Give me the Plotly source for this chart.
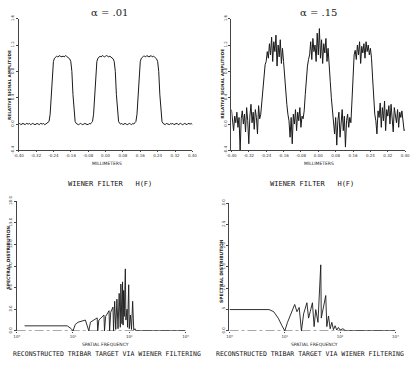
import plotly.graph_objects as go

W, H = 417, 369

# ---------------- data ----------------
mm_ticks = [-0.40, -0.32, -0.24, -0.16, -0.08, 0.00, 0.08, 0.16, 0.24, 0.32, 0.40]
mm_ticktext = ["-0.40", "-0.32", "-0.24", "-0.16", "-0.08", "0.00", "0.08", "0.16", "0.24", "0.32", "0.40"]
amp_ticks = [-0.4, 0.0, 0.4, 0.8, 1.2, 1.6]
amp_ticktext = ["-0.4", "0.0", "0.4", "0.8", "1.2", "1.6"]

# sample positions (millimeters), 0.005 mm spacing
pos_mm = [round(-0.40 + 0.005 * i, 3) for i in range(161)]

# alpha = .01 reconstruction
sig_01 = [
    0.00, 0.01, -0.01, 0.00, 0.01, 0.00, -0.01, 0.01, 0.00, 0.00, 0.01, -0.01, 0.00, 0.01, 0.00,
    -0.01, 0.00, 0.01, 0.00, -0.01, 0.01, 0.00, 0.00, 0.01, -0.01, 0.00, 0.01, 0.02, 0.04,
    0.15, 0.45, 0.80, 0.95, 1.00,
    1.02, 1.03, 1.02, 1.03, 1.04, 1.02, 1.03, 1.03, 1.02, 1.04, 1.03, 1.02, 1.01, 0.99,
    0.95, 0.80, 0.45, 0.15, 0.04, 0.01,
    0.00, -0.01, 0.00, 0.01, 0.00, -0.01, 0.00, 0.01, 0.00, 0.00, -0.01, 0.01, 0.00, 0.02, 0.04,
    0.15, 0.45, 0.80, 0.95, 1.00,
    1.02, 1.03, 1.02, 1.04, 1.03, 1.02, 1.03, 1.04, 1.03, 1.02, 1.03, 1.02, 1.01, 0.99,
    0.95, 0.80, 0.45, 0.15, 0.04, 0.01,
    0.00, 0.01, -0.01, 0.00, 0.01, 0.00, -0.01, 0.00, 0.01, 0.00, -0.01, 0.01, 0.00, 0.02, 0.04,
    0.15, 0.45, 0.80, 0.95, 1.00,
    1.02, 1.03, 1.03, 1.02, 1.04, 1.03, 1.02, 1.03, 1.04, 1.02, 1.03, 1.02, 1.01, 0.99,
    0.95, 0.80, 0.45, 0.15, 0.04, 0.01,
    0.00, -0.01, 0.01, 0.00, 0.00, -0.01, 0.01, 0.00, 0.01, -0.01, 0.00, 0.00, 0.01, -0.01,
    0.00, 0.01, 0.00, -0.01, 0.00, 0.01, 0.00, -0.01, 0.01, 0.00, 0.00, 0.01, -0.01,
]

# alpha = .15 reconstruction (noisy)
sig_15 = [
    0.22, 0.05, -0.10, 0.12, 0.02, 0.18, -0.05, 0.10, -0.42, 0.08, 0.20, 0.00, 0.15, -0.12,
    0.25, 0.05, -0.30, 0.12, 0.30, 0.02, 0.18, -0.08, 0.22, 0.10, -0.15, 0.28, 0.08,
    0.15, 0.35, 0.60, 0.78, 0.90,
    0.95, 1.10, 1.00, 1.22, 1.05, 1.32, 0.95, 1.25, 1.10, 1.35, 0.88, 1.20, 1.02, 1.28, 0.92, 1.15,
    0.95, 0.70, 0.45, 0.30, 0.15, 0.05,
    -0.20, 0.10, -0.30, 0.15, 0.00, 0.22, -0.10, 0.18, 0.05, 0.25, -0.05, 0.12, 0.08,
    0.20, 0.45, 0.70, 0.88, 0.98,
    1.05, 1.25, 0.98, 1.30, 1.10, 1.20, 0.95, 1.38, 1.05, 1.45, 1.00, 1.28, 0.92, 1.22, 1.08,
    1.30, 0.95, 1.15,
    0.95, 0.65, 0.40, 0.20, 0.08,
    -0.15, 0.10, -0.32, 0.05, 0.18, -0.20, 0.08, 0.22, -0.10, 0.12, -0.35, 0.05, 0.15, -0.05,
    0.10, 0.02,
    0.35, 0.80, 1.05,
    1.12, 0.98, 1.20, 1.05, 1.25, 0.92, 1.18, 1.08, 1.22, 1.00, 1.25, 1.10, 1.20, 1.05, 1.15,
    1.00, 0.70, 0.40, 0.15,
    0.05, -0.15, 0.20, 0.10, 0.32, -0.05, 0.25, 0.05, 0.35, -0.10, 0.22, 0.12, 0.28, 0.00,
    0.30, 0.08, -0.12, 0.25, 0.15, 0.02, 0.22, -0.05, 0.18, 0.10, 0.20, 0.05, -0.10, -0.08,
]

# spectral distribution, alpha = .01
freq_01 = [1.38, 7.9, 9.3, 10.0, 11.0, 12.3, 16.6, 19.1, 20.4, 26.9, 27.5, 28.8, 35.5, 36.3,
           38.0, 43.7, 44.7, 46.8, 51.3, 52.5, 55.0, 57.5, 60.3, 63.1, 66.1, 69.2, 70.8, 74.1,
           75.9, 77.6, 79.4, 81.3, 85.1, 87.1, 91.2, 93.3, 97.7, 100.0, 104.7, 109.6, 114.8,
           120.2, 125.9, 131.8, 1000.0]
spec_01 = [0.7, 0.7, 0.3, 0.0, 0.9, 1.2, 1.5, 0.0, 1.2, 1.8, 0.0, 1.5, 2.2, 0.0,
           2.0, 2.8, 0.0, 2.6, 3.3, 0.0, 4.1, 0.2, 4.4, 0.3, 5.2, 0.5, 6.5, 1.0,
           6.8, 0.8, 5.6, 2.0, 8.6, 1.5, 3.0, 0.5, 6.4, 0.3, 2.2, 0.2,
           4.1, 0.1, 0.3, 0.0, 0.0]

# spectral distribution, alpha = .15
freq_15 = [1.0, 5.2, 6.3, 7.6, 8.9, 10.0, 11.2, 13.2, 15.1, 16.6, 18.2, 20.0, 21.9, 25.1,
           26.9, 28.8, 31.6, 33.9, 36.3, 39.8, 42.7, 44.7, 45.7, 50.1, 55.0, 57.5, 61.7,
           66.1, 70.8, 75.9, 81.3, 87.1, 93.3, 100.0, 112.2, 125.9, 1000.0]
spec_15 = [0.5, 0.5, 0.45, 0.3, 0.12, 0.0, 0.2, 0.45, 0.62, 0.45, 0.55, 0.0, 0.4, 0.66,
           0.3, 0.45, 0.66, 0.1, 0.5, 0.2, 0.9, 1.55, 0.3, 0.6, 0.83, 0.1, 0.35,
           0.05, 0.2, 0.03, 0.12, 0.02, 0.08, 0.02, 0.05, 0.0, 0.0]

freq_ticks = [1, 10, 100, 1000]
freq_ticktext = ["10\u2070", "10\u00b9", "10\u00b2", "10\u00b3"]
freq_range = [1, 1000]
spec01_ticks = [0, 3, 6, 9, 12, 15, 18]
spec01_ticktext = ["0.0", "3.0", "6.0", "9.0", "12.0", "15.0", "18.0"]
spec15_ticks = [0, 0.5, 1.0, 1.5, 2.0, 2.5, 3.0]
spec15_ticktext = ["0.0", ".5", "1.0", "1.5", "2.0", "2.5", "3.0"]

# ---------------- figure ----------------
INK = "#1a1a1a"
fig = go.Figure()

fig.add_trace(go.Scatter(x=pos_mm, y=sig_01, mode="lines", line=dict(color=INK, width=1),
                         xaxis="x", yaxis="y", showlegend=False))
fig.add_trace(go.Scatter(x=pos_mm, y=sig_15, mode="lines", line=dict(color=INK, width=1),
                         xaxis="x2", yaxis="y2", showlegend=False))
fig.add_trace(go.Scatter(x=freq_range, y=[0, 0], mode="lines",
                         line=dict(color="#555", width=0.8, dash="dashdot"),
                         xaxis="x3", yaxis="y3", showlegend=False))
fig.add_trace(go.Scatter(x=freq_01, y=spec_01, mode="lines", line=dict(color=INK, width=0.9),
                         xaxis="x3", yaxis="y3", showlegend=False))
fig.add_trace(go.Scatter(x=freq_range, y=[0, 0], mode="lines",
                         line=dict(color="#555", width=0.8, dash="dashdot"),
                         xaxis="x4", yaxis="y4", showlegend=False))
fig.add_trace(go.Scatter(x=freq_15, y=spec_15, mode="lines", line=dict(color=INK, width=0.9),
                         xaxis="x4", yaxis="y4", showlegend=False))


def px_x(p):
    return p / W


def px_y(p):
    return 1 - p / H


tickfont = dict(family="DejaVu Sans", size=4, color="#333")

common_x = dict(showgrid=False, zeroline=False, ticks="outside", ticklen=1, tickcolor="#444",
                tickfont=tickfont, linecolor="#444", linewidth=1)
common_y = dict(showgrid=False, zeroline=False, ticks="outside", ticklen=2, tickcolor="#444",
                tickfont=tickfont, linecolor="#444", linewidth=1, showline=True, tickangle=-90)

top_y = [px_y(148), px_y(13)]
fig.update_layout(
    width=W, height=H, margin=dict(l=0, r=0, t=0, b=0),
    paper_bgcolor="white", plot_bgcolor="white",
    xaxis=dict(domain=[px_x(14), px_x(192)], range=[-0.40, 0.40], anchor="y",
               tickvals=mm_ticks, ticktext=mm_ticktext, showline=True, **common_x),
    yaxis=dict(domain=top_y, range=[-0.4, 1.6], anchor="x",
               tickvals=amp_ticks, ticktext=amp_ticktext, **common_y),
    xaxis2=dict(domain=[px_x(232), px_x(410)], range=[-0.40, 0.40], anchor="y2",
                tickvals=mm_ticks, ticktext=mm_ticktext, showline=True, **common_x),
    yaxis2=dict(domain=top_y, range=[-0.4, 1.6], anchor="x2",
                tickvals=amp_ticks, ticktext=amp_ticktext, **common_y),
    xaxis3=dict(domain=[px_x(12), px_x(185)], type="log", range=[0, 3], anchor="y3",
                tickvals=freq_ticks, ticktext=freq_ticktext, showline=False, **common_x),
    yaxis3=dict(domain=[px_y(333), px_y(200)], range=[0, 18], anchor="x3",
                tickvals=spec01_ticks, ticktext=spec01_ticktext, **common_y),
    xaxis4=dict(domain=[px_x(230), px_x(400)], type="log", range=[0, 3], anchor="y4",
                tickvals=freq_ticks, ticktext=freq_ticktext, showline=False, **common_x),
    yaxis4=dict(domain=[px_y(333), px_y(202)], range=[0, 3], anchor="x4",
                tickvals=spec15_ticks, ticktext=spec15_ticktext, **common_y),
)


def label(text, x, y, size, family="DejaVu Sans", angle=0, color="#222"):
    fig.add_annotation(text=text, x=px_x(x), y=px_y(y), xref="paper", yref="paper",
                       showarrow=False, xanchor="center", yanchor="middle",
                       textangle=angle, font=dict(family=family, size=size, color=color))


label("\u03b1 = .01", 107, 7, 10, family="DejaVu Serif")
label("\u03b1 = .15", 321, 7, 10, family="DejaVu Serif")
label("<b>RELATIVE SIGNAL AMPLITUDE</b>", 4, 81, 4.2, angle=-90)
label("<b>RELATIVE SIGNAL AMPLITUDE</b>", 222, 80, 4.2, angle=-90)
label("MILLIMETERS", 104, 161, 4.5)
label("MILLIMETERS", 322, 161, 4.5)
mono = "DejaVu Sans Mono"
label("WIENER FILTER   H(F)", 108, 182, 7, family=mono, color="#111")
label("WIENER FILTER   H(F)", 315, 182, 7, family=mono, color="#111")
label("<b>SPECTRAL DISTRIBUTION</b>", 4, 258, 4.5, angle=-90)
label("<b>SPECTRAL DISTRIBUTION</b>", 222, 272, 4.5, angle=-90)
label("SPATIAL FREQUENCY", 103, 347, 4.5)
label("SPATIAL FREQUENCY", 317, 347, 4.5)
label("RECONSTRUCTED TRIBAR TARGET VIA WIENER FILTERING", 104, 357, 6.5, family=mono, color="#111")
label("RECONSTRUCTED TRIBAR TARGET VIA WIENER FILTERING", 313, 357, 6.5, family=mono, color="#111")

fig.write_html("out.html")
